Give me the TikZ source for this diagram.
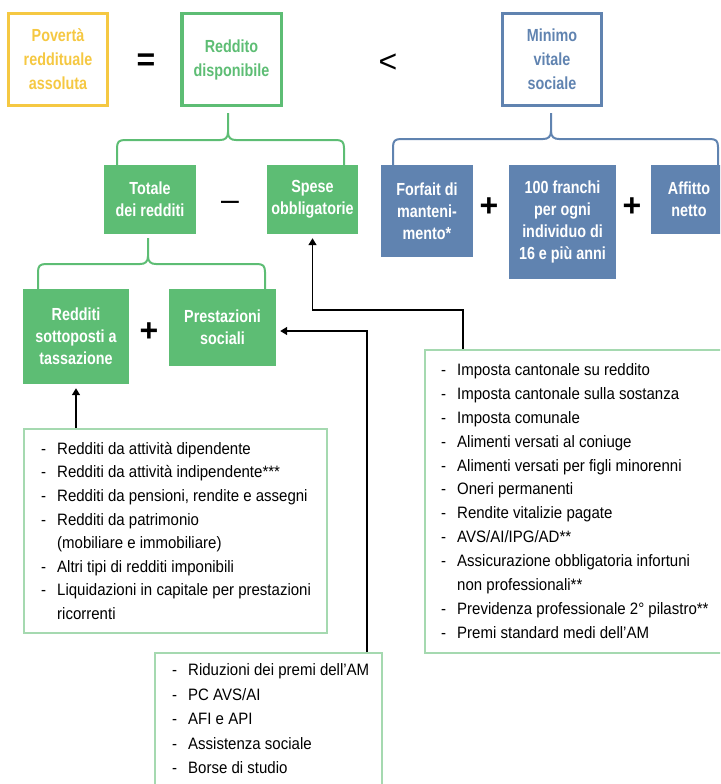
\documentclass[tikz,border=0pt]{standalone}
\usepackage{fontspec}
\setmainfont{Liberation Sans}
\newfontfamily\condfont[FakeStretch=0.82]{Liberation Sans}
\newfontfamily\listfont[FakeStretch=0.91]{Liberation Sans}
\usetikzlibrary{arrows.meta,calc}
\definecolor{cyel}{HTML}{F5C842}
\definecolor{cgrn}{HTML}{5DBD74}
\definecolor{cblu}{HTML}{6083B0}
\definecolor{clgr}{HTML}{A5D9B0}
\newcommand\listdash{\makebox[16pt][l]{-}}
\newcommand\listgap{\hspace*{16pt}}
\newcommand\drawbrace[7]{%
  \draw[draw=#1, line width=2pt] (#2,#7) -- (#2,{#6+8}) .. controls (#2,{#6+2}) and ({#2+2},#6) .. ({#2+8},#6) -- ({#3-8},#6) .. controls ({#3-3},#6) and (#3,{#6-2}) .. (#3,{#6-8}) -- (#3,#5);
  \draw[draw=#1, line width=2pt] (#4,#7) -- (#4,{#6+8}) .. controls (#4,{#6+2}) and ({#4-2},#6) .. ({#4-8},#6) -- ({#3+8},#6) .. controls ({#3+3},#6) and (#3,{#6-2}) .. (#3,{#6-8});
}
\tikzset{
  topbox/.style={draw=#1, text=#1, line width=3.5pt, inner sep=0pt, align=center,
    minimum width=99pt, minimum height=91.5pt,
    font=\condfont\bfseries\fontsize{17.5}{24}\selectfont},
  fillbox/.style={fill=#1, draw=none, text=white, inner sep=0pt, align=center,
    font=\condfont\bfseries\fontsize{17.5}{22}\selectfont},
  sym/.style={inner sep=0pt, font=\bfseries\fontsize{32}{32}\selectfont},
  symr/.style={inner sep=0pt, font=\fontsize{32}{32}\selectfont},
  listbox/.style={draw=clgr, line width=1.5pt, inner sep=0pt, anchor=north west},
  listtext/.style={inner sep=0pt, anchor=north west, align=left},
  arr/.style={-{Triangle[length=7pt,width=8pt]}, line width=1.5pt, shorten >=4pt}
}
\begin{document}
\begin{tikzpicture}[x=1pt,y=-1pt]
\useasboundingbox (0,0) rectangle (720,784);
\clip (0,0) rectangle (720,784);

% top row
\node[topbox=cyel] (pov) at (58,59.5) {Povertà\\reddituale\\assoluta};
\node[topbox=cgrn, minimum width=99.5pt] (red) at (231.5,59.5) {Reddito\\disponibile};
\node[topbox=cblu] (min) at (552,59.5) {Minimo\\vitale\\sociale};
\node[sym] (eq) at (146,62) {=};
\node[symr] (lt) at (388,63) {<};

% second row green
\node[fillbox=cgrn, minimum width=92pt, minimum height=69pt] (tot) at (150,199.5) {Totale\\dei redditi};
\node[fillbox=cgrn, minimum width=91pt, minimum height=69pt] (spe) at (312.5,199.5) {Spese\\obbligatorie};
\node[symr] (minus) at (230,206) {–};

% second row blue
\node[fillbox=cblu, minimum width=92pt, minimum height=92pt] (forf) at (427,211) {Forfait di\\manteni-\\mento*};
\node[fillbox=cblu, minimum width=107pt, minimum height=114pt] (cento) at (562.5,222) {100 franchi\\per ogni\\individuo di\\16 e più anni};
\node[fillbox=cblu, minimum width=76pt, minimum height=69pt] (aff) at (689,199.5) {Affitto\\netto};
\node[sym] (p2) at (489,207) {+};
\node[sym] (p3) at (632,207) {+};

% third row
\node[fillbox=cgrn, minimum width=106pt, minimum height=95pt] (rst) at (76,336.5) {Redditi\\sottoposti a\\tassazione};
\node[fillbox=cgrn, minimum width=107pt, minimum height=77pt] (pre) at (222.5,327.5) {Prestazioni\\sociali};
\node[sym] (p1) at (149,332) {+};

% braces
\drawbrace{cgrn}{117}{228}{344}{113}{140}{165}
\drawbrace{cgrn}{38}{148}{265}{238}{264}{289}
\drawbrace{cblu}{393}{551}{718}{113}{139}{165}

% list boxes
\node[listbox, minimum width=303pt, minimum height=204pt] (lbox) at (23,428) {};
\node[listtext, font=\listfont\fontsize{16.5}{23.6}\selectfont] (ltext) at (41,437.5) {%
\begin{tabular}{@{}l@{}}
\listdash Redditi da attività dipendente\\
\listdash Redditi da attività indipendente***\\
\listdash Redditi da pensioni, rendite e assegni\\
\listdash Redditi da patrimonio\\
\listgap (mobiliare e immobiliare)\\
\listdash Altri tipi di redditi imponibili\\
\listdash Liquidazioni in capitale per prestazioni\\
\listgap ricorrenti
\end{tabular}};

\node[listbox, minimum width=310pt, minimum height=303pt] (rbox) at (424,349) {};
\node[listtext, font=\listfont\fontsize{16.5}{23.9}\selectfont] (rtext) at (441,358.5) {%
\begin{tabular}{@{}l@{}}
\listdash Imposta cantonale su reddito\\
\listdash Imposta cantonale sulla sostanza\\
\listdash Imposta comunale\\
\listdash Alimenti versati al coniuge\\
\listdash Alimenti versati per figli minorenni\\
\listdash Oneri permanenti\\
\listdash Rendite vitalizie pagate\\
\listdash AVS/AI/IPG/AD**\\
\listdash Assicurazione obbligatoria infortuni\\
\listgap non professionali**\\
\listdash Previdenza professionale 2° pilastro**\\
\listdash Premi standard medi dell’AM
\end{tabular}};

\node[listbox, minimum width=227pt, minimum height=150pt] (bbox) at (154,652) {};
\node[listtext, font=\listfont\fontsize{16.5}{24.5}\selectfont] (btext) at (172,658.5) {%
\begin{tabular}{@{}l@{}}
\listdash Riduzioni dei premi dell’AM\\
\listdash PC AVS/AI\\
\listdash AFI e API\\
\listdash Assistenza sociale\\
\listdash Borse di studio
\end{tabular}};

% arrows
\draw[arr] (rst.south |- lbox.north) -- (rst.south);
\draw[arr] ([xshift=39pt]rbox.north west) -- ++(0,-39) -| (spe.south);
\draw[arr] ([xshift=213pt]bbox.north west) |- ([yshift=-3.5pt]pre.east);
\end{tikzpicture}
\end{document}
